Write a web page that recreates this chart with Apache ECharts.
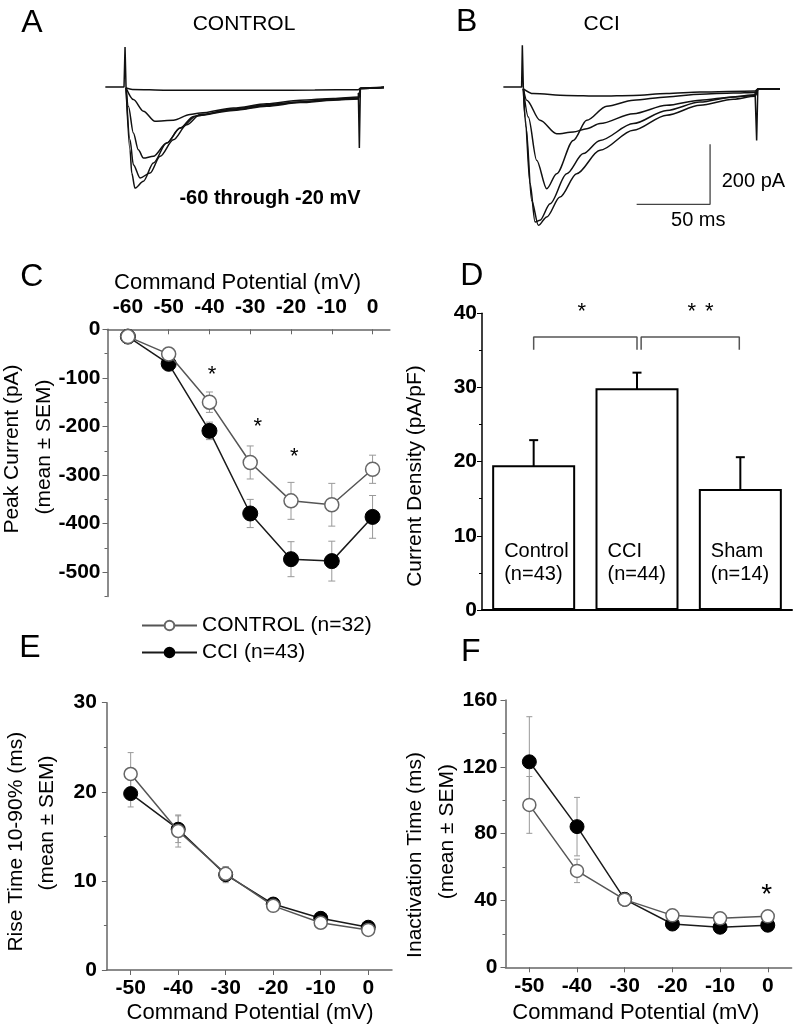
<!DOCTYPE html>
<html>
<head>
<meta charset="utf-8">
<script src="https://cdn.jsdelivr.net/npm/echarts@6/dist/echarts.min.js"></script>
<style>
html,body{margin:0;padding:0;background:#fff;}
#main{width:800px;height:1029px;}
</style>
</head>
<body>
<div id="main"></div>
<script>
// ---------------- DATA ----------------
// Panel A (CONTROL) current traces: [time ms, current pA]
const aStart = [[-13.5,0],[-0.7,0],[0,133],[0.7,-3]];
const aEndArtifact = [[159.8,-20],[160.5,-203],[161.2,-3]];
const traceA60 = [[0.7,-3],[5,-8],[28.5,-11],[60,-11],[97,-11],[130,-10],[159.8,-9],[161.4,-3],[177.4,0]];
const traceA50 = [[0.7,-3],[5.7,-42],[12.6,-81],[20.5,-114],[33.1,-111],[44.5,-92],[51.4,-87],[74.2,-70],[97,-56],[119.9,-44],[142.7,-38],[159.8,-33],[161.4,-5],[177.4,-2]];
const traceA40 = [[0.7,-3],[2.3,-64],[5.7,-153],[9.1,-209],[12.6,-237],[19.4,-231],[28.5,-187],[37.7,-137],[46.8,-98],[74.2,-73],[97,-59],[119.9,-50],[142.7,-40],[159.8,-36],[161.4,-5],[177.4,-2]];
const traceA30 = [[0.7,-3],[3.4,-176],[5.7,-259],[10.3,-303],[17.1,-287],[24,-231],[33.1,-176],[42.2,-126],[51.4,-92],[74.2,-76],[97,-62],[119.9,-50],[142.7,-42],[159.8,-38],[161.4,-5],[177.4,-2]];
const traceA20 = [[0.7,-3],[3.4,-209],[4.6,-287],[6.8,-337],[12.6,-314],[19.4,-253],[28.5,-187],[37.7,-137],[49.1,-96],[74.2,-78],[97,-64],[119.9,-52],[142.7,-44],[159.8,-40],[161.4,-5],[177.4,-2]];

// Panel B (CCI) current traces
const bStart = [[-13,0],[-0.5,0],[0,139],[0.7,-6]];
const bEndArtifact = [[159.4,-15],[160.5,-178],[161.3,-6]];
const traceB60 = [[0.7,-6],[7.5,-22],[30.4,-28],[53.2,-30],[76,-28],[98.9,-22],[121.7,-17],[159.4,-13],[161.6,-6],[176.5,-6]];
const traceB50 = [[0.7,-6],[3,-44],[12.1,-111],[23.5,-156],[34.9,-150],[44.1,-139],[53.2,-122],[76,-89],[98.9,-61],[121.7,-44],[144.5,-33],[159.4,-28],[161.6,-7],[176.5,-7]];
const traceB40 = [[0.7,-6],[4.1,-100],[9.8,-244],[16.7,-339],[23.5,-289],[34.9,-178],[44.1,-111],[57.8,-64],[76,-44],[98.9,-33],[121.7,-24],[144.5,-20],[159.4,-18],[161.6,-7],[176.5,-7]];
const traceB30 = [[0.7,-6],[1.8,-100],[5.3,-322],[8.7,-450],[12.1,-444],[19,-389],[30.4,-289],[41.8,-222],[53.2,-178],[76,-122],[98.9,-78],[121.7,-50],[144.5,-33],[159.4,-26],[161.6,-7],[176.5,-7]];
const traceB20 = [[0.7,-6],[2.5,-133],[6.4,-378],[11,-461],[16.7,-433],[25.8,-367],[37.2,-289],[53.2,-211],[76,-144],[98.9,-94],[121.7,-61],[144.5,-41],[159.4,-31],[161.6,-7],[176.5,-7]];
// scale bar: 50 ms x 200 pA
const scaleBar = [[78.3,-391],[128.6,-391],[128.6,-191]];

// Panel C: peak current vs command potential
const cmdC = [-60,-50,-40,-30,-20,-10,0];
const ctrlPeak = [-15,-51,-150,-274,-353,-361,-288];
const ctrlPeakSem = [5,6,21,34,38,44,29];
const cciPeak = [-15,-71,-209,-379,-473,-477,-386];
const cciPeakSem = [5,8,18,29,36,41,44];
const cTicks = [-60,-50,-40,-30,-20,-10,0];
const cYTicks = [0,-100,-200,-300,-400,-500];

// Panel D: current density
const groups = ['Control','CCI','Sham'];
const groupN = ['(n=43)','(n=44)','(n=14)'];
const density = [19.5,29.9,16.3];
const densitySem = [3.4,2.1,4.3];
const bracketLeft = [[0.5,35.1],[0.5,36.8],[1.5,36.8],[1.5,35.1]];
const bracketRight = [[1.54,35.1],[1.54,36.8],[2.49,36.8],[2.49,35.1]];

// Panels E,F
const cmdEF = [-50,-40,-30,-20,-10,0];
const ctrlRise = [22.0,15.6,10.8,7.2,5.3,4.5];
const ctrlRiseSem = [2.4,1.8,0.8,0.4,0.4,0.3];
const cciRise = [19.8,15.8,10.7,7.4,5.8,4.8];
const cciRiseSem = [1.5,1.5,0.9,0.4,0.3,0.3];
const ctrlInact = [97.2,57.7,40.5,31.1,29.3,30.5];
const ctrlInactSem = [17,7,2,1.5,1.5,1.5];
const cciInact = [123,84.2,40.7,25.9,24,25.2];
const cciInactSem = [27,17.5,2.5,1.5,1.5,1.5];

// ---------------- CHART ----------------
const FONT = 'Liberation Sans, Arial, Helvetica, sans-serif';
const chart = echarts.init(document.getElementById('main'), null, {renderer:'canvas'});

function pairs(xs, ys){ return xs.map((x,i)=>[x, ys[i]]); }

function traceSeries(xIdx, yIdx, data, smooth){
  return {type:'line', xAxisIndex:xIdx, yAxisIndex:yIdx, data:data, showSymbol:false, symbol:'none',
    smooth: smooth ? 0.3 : false, smoothMonotone:'x', silent:true,
    lineStyle:{color:'#111', width:1.5}, z:3};
}

function errSeries(xIdx, yIdx, xs, means, sems, color, cap, lw){
  return {type:'custom', xAxisIndex:xIdx, yAxisIndex:yIdx, silent:true, z:1,
    data: xs.map((x,i)=>[x, means[i]-sems[i], means[i]+sems[i]]),
    encode:{x:0, y:[1,2]},
    renderItem:function(params, api){
      const x = api.value(0);
      const a = api.coord([x, api.value(1)]);
      const b = api.coord([x, api.value(2)]);
      const st = {stroke:color, lineWidth:lw};
      return {type:'group', children:[
        {type:'line', shape:{x1:a[0],y1:a[1],x2:b[0],y2:b[1]}, style:st},
        {type:'line', shape:{x1:a[0]-cap,y1:a[1],x2:a[0]+cap,y2:a[1]}, style:st},
        {type:'line', shape:{x1:b[0]-cap,y1:b[1],x2:b[0]+cap,y2:b[1]}, style:st}
      ]};
    }};
}

function meanSeries(name, xIdx, yIdx, xs, ys, filled, size){
  return {type:'line', name:name, xAxisIndex:xIdx, yAxisIndex:yIdx, data:pairs(xs,ys),
    symbol:'circle', symbolSize:size, showSymbol:true, silent:true, z:filled?3:4,
    lineStyle:{color: filled ? '#1a1a1a' : '#555', width:1.5},
    itemStyle: filled ? {color:'#000', borderColor:'#000', borderWidth:1}
                      : {color:'#fff', borderColor:'#666', borderWidth:1.5}};
}

const tickLbl = {color:'#000', fontFamily:FONT, fontWeight:'bold', fontSize:21};
const grayLine = {show:true, onZero:false, lineStyle:{color:'#666', width:1.5}};

function txt(x, y, s, size, opts){
  opts = opts || {};
  return {type:'text', x:x, y:y, rotation: opts.rot || 0, silent:true,
    style:{text:s, fill:'#000', font:(opts.bold?'bold ':'') + size + 'px ' + FONT,
      textAlign: opts.align || 'center', textVerticalAlign:'middle'}};
}

const R = Math.PI/2;

const option = {
  backgroundColor:'#fff',
  animation:false,
  grid:[
    {left:104.6, top:42, width:280.3, height:195},   // A
    {left:501.9, top:42, width:280.3, height:195},   // B
    {left:107.5, top:329.3, width:282.4, height:267.3}, // C
    {left:482, top:313.3, width:310, height:296.7},  // D
    {left:106.9, top:702.7, width:285.1, height:267.3}, // E
    {left:505.5, top:700, width:286.1, height:267.3}  // F
  ],
  xAxis:[
    {gridIndex:0, type:'value', min:-14, max:178, show:false},
    {gridIndex:1, type:'value', min:-14, max:178, show:false},
    {gridIndex:2, type:'value', position:'top', min:-65, max:4.25, splitLine:{show:false},
      axisLine:grayLine,
      axisTick:{show:true, inside:true, length:5, lineStyle:{color:'#666'}, customValues:cTicks},
      axisLabel:Object.assign({margin:12, customValues:cTicks}, tickLbl)},
    {gridIndex:3, type:'category', data:groups, boundaryGap:true,
      axisLine:{show:true, onZero:false, lineStyle:{color:'#000', width:2}},
      axisTick:{show:false}, axisLabel:{show:false}},
    {gridIndex:3, type:'value', min:0, max:3, show:false},
    {gridIndex:4, type:'value', min:-55, max:5, splitLine:{show:false},
      axisLine:grayLine,
      axisTick:{show:true, length:5, lineStyle:{color:'#666'}, customValues:cmdEF},
      axisLabel:Object.assign({margin:8, customValues:cmdEF}, tickLbl)},
    {gridIndex:5, type:'value', min:-55, max:5, splitLine:{show:false},
      axisLine:grayLine,
      axisTick:{show:true, length:5, lineStyle:{color:'#666'}, customValues:cmdEF},
      axisLabel:Object.assign({margin:8, customValues:cmdEF}, tickLbl)}
  ],
  yAxis:[
    {gridIndex:0, type:'value', min:-500, max:150, show:false},
    {gridIndex:1, type:'value', min:-500, max:150, show:false},
    {gridIndex:2, type:'value', min:-550, max:0, splitLine:{show:false},
      axisLine:grayLine,
      axisTick:{show:true, length:5, lineStyle:{color:'#666'}, customValues:cYTicks},
      axisLabel:Object.assign({margin:7, customValues:cYTicks}, tickLbl)},
    {gridIndex:2, type:'value', position:'left', min:-550, max:0, interval:50, splitLine:{show:false},
      axisLine:{show:false, onZero:false}, axisLabel:{show:false},
      axisTick:{show:true, length:3, lineStyle:{color:'#666'}}},
    {gridIndex:3, type:'value', min:0, max:40, interval:10, splitLine:{show:false},
      axisLine:{show:true, onZero:false, lineStyle:{color:'#000', width:1.5}},
      axisTick:{show:true, length:5, lineStyle:{color:'#000'}},
      minorTick:{show:true, splitNumber:2, length:3, lineStyle:{color:'#000'}},
      axisLabel:Object.assign({margin:5}, tickLbl)},
    {gridIndex:4, type:'value', min:0, max:30, interval:10, splitLine:{show:false},
      axisLine:grayLine,
      axisTick:{show:true, length:5, lineStyle:{color:'#666'}},
      minorTick:{show:true, splitNumber:2, length:3, lineStyle:{color:'#666'}},
      axisLabel:Object.assign({margin:10}, tickLbl)},
    {gridIndex:5, type:'value', min:0, max:160, interval:40, splitLine:{show:false},
      axisLine:grayLine,
      axisTick:{show:true, length:5, lineStyle:{color:'#666'}},
      minorTick:{show:true, splitNumber:2, length:3, lineStyle:{color:'#666'}},
      axisLabel:Object.assign({margin:8}, tickLbl)}
  ],
  legend:{
    orient:'vertical', left:136, top:610, itemWidth:55, itemHeight:12, itemGap:6,
    selectedMode:false,
    data:['CONTROL (n=32)','CCI (n=43)'],
    textStyle:{color:'#000', fontFamily:FONT, fontSize:21, lineHeight:20}
  },
  series:[
    // A traces
    traceSeries(0,0,aStart,false),
    traceSeries(0,0,aEndArtifact,false),
    traceSeries(0,0,traceA60,true),
    traceSeries(0,0,traceA50,true),
    traceSeries(0,0,traceA40,true),
    traceSeries(0,0,traceA30,true),
    traceSeries(0,0,traceA20,true),
    // B traces
    traceSeries(1,1,bStart,false),
    traceSeries(1,1,bEndArtifact,false),
    traceSeries(1,1,traceB60,true),
    traceSeries(1,1,traceB50,true),
    traceSeries(1,1,traceB40,true),
    traceSeries(1,1,traceB30,true),
    traceSeries(1,1,traceB20,true),
    {type:'line', xAxisIndex:1, yAxisIndex:1, data:scaleBar, symbol:'none', silent:true,
      lineStyle:{color:'#444', width:1.3}},
    // C
    errSeries(2,2,cmdC,ctrlPeak,ctrlPeakSem,'#999',3.5,1),
    errSeries(2,2,cmdC,cciPeak,cciPeakSem,'#999',3.5,1),
    meanSeries('CCI (n=43)',2,2,cmdC,cciPeak,true,15),
    meanSeries('CONTROL (n=32)',2,2,cmdC,ctrlPeak,false,14),
    // D
    {type:'bar', xAxisIndex:3, yAxisIndex:4, data:density, barWidth:83, silent:true, z:2,
      itemStyle:{color:'#fff', borderColor:'#000', borderWidth:2},
      label:{show:true, position:'insideBottomLeft', distance:12, offset:[0,-12],
        formatter:function(p){ return groups[p.dataIndex] + '\n' + groupN[p.dataIndex]; },
        color:'#000', fontFamily:FONT, fontSize:20, lineHeight:23}},
    errSeries(3,4,[0,1,2],density,densitySem,'#000',4.5,2),
    {type:'line', xAxisIndex:4, yAxisIndex:4, data:bracketLeft, symbol:'none', silent:true,
      lineStyle:{color:'#555', width:1.5}},
    {type:'line', xAxisIndex:4, yAxisIndex:4, data:bracketRight, symbol:'none', silent:true,
      lineStyle:{color:'#555', width:1.5}},
    // E
    errSeries(5,5,cmdEF,ctrlRise,ctrlRiseSem,'#999',3,1),
    errSeries(5,5,cmdEF,cciRise,cciRiseSem,'#999',3,1),
    meanSeries('E control',5,5,cmdEF,ctrlRise,false,13),
    meanSeries('E cci',5,5,cmdEF,cciRise,true,14),
    // F
    errSeries(6,6,cmdEF,ctrlInact,ctrlInactSem,'#999',3,1),
    errSeries(6,6,cmdEF,cciInact,cciInactSem,'#999',3,1),
    meanSeries('F control',6,6,cmdEF,ctrlInact,false,13),
    meanSeries('F cci',6,6,cmdEF,cciInact,true,14)
  ],
  graphic:[
    txt(32,23,'A',32),
    txt(244,24,'CONTROL',21),
    txt(270,198,'-60 through -20 mV',20,{bold:true}),
    txt(466.7,22,'B',32),
    txt(601.7,24,'CCI',21),
    txt(721.7,181.7,'200 pA',20,{align:'left'}),
    txt(698.3,220,'50 ms',20),
    txt(31.7,276.7,'C',32),
    txt(237.5,282.7,'Command Potential (mV)',22),
    txt(12,449,'Peak Current (pA)',21,{rot:R}),
    txt(44,447,'(mean ± SEM)',21,{rot:R}),
    txt(212,375,'*',22),
    txt(257.7,426.7,'*',22),
    txt(294.3,456.7,'*',22),
    txt(471.7,276,'D',32),
    txt(415,476,'Current Density (pA/pF)',21,{rot:R}),
    txt(581.7,311.7,'*',22),
    txt(691.7,311.7,'*',22),
    txt(709.3,311.7,'*',22),
    txt(30,648,'E',32),
    txt(16,841.7,'Rise Time 10-90% (ms)',21,{rot:R}),
    txt(47.5,823,'(mean ± SEM)',21,{rot:R}),
    txt(250,1013.3,'Command Potential (mV)',22),
    txt(470.8,652,'F',32),
    txt(415,855,'Inactivation Time (ms)',21,{rot:R}),
    txt(447.5,831.7,'(mean ± SEM)',21,{rot:R}),
    txt(635.8,1013,'Command Potential (mV)',22),
    txt(766.7,895,'*',28)
  ]
};
chart.setOption(option);
</script>
</body>
</html>
